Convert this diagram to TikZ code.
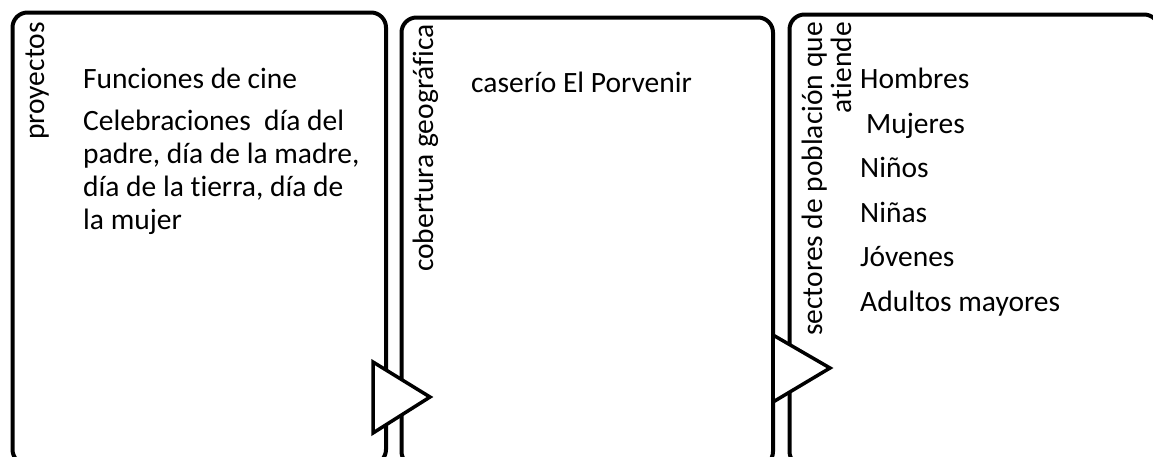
\documentclass[tikz,border=0pt]{standalone}
\usepackage{fontspec}
\setmainfont[Ligatures=CommonOff]{Carlito}
\usetikzlibrary{positioning}

\begin{document}
\begin{tikzpicture}[x=1pt, y=-1pt,
    box/.style={draw, line width=4pt, rounded corners=15pt, anchor=north west, inner sep=0pt},
    tri/.style={draw, line width=3.5pt, fill=white, miter limit=10},
    vert/.style={rotate=90, anchor=base west, inner sep=0pt, font=\fontsize{29.5}{33}\selectfont},
    txt/.style={anchor=base west, inner sep=0pt, align=left, font=\fontsize{29.5}{33}\selectfont}]
    \useasboundingbox (0,0) rectangle (1153,456);
    \clip (0,0) rectangle (1153,456);

    % the three boxes
    \node[box, minimum width=373.5pt, minimum height=452pt] (proy) at (10.5,10.5) {};
    \node[box, minimum width=371.5pt, minimum height=449pt] (cob)  at (399.5,15.5) {};
    \node[box, minimum width=369.5pt, minimum height=452pt] (sect) at (787.5,12.5) {};

    % arrow heads between the boxes
    \draw[tri] (373,362) -- (373,433) -- (430,397) -- cycle;
    \draw[tri] (773,335) -- (773,402) -- (830,368) -- cycle;

    % titles
    \node[vert] (proyT) at (44,140) {proyectos};
    \node[vert] (cobT)  at (433,272) {cobertura geográfica};
    \node[vert, anchor=base east] (sectT1) at (822,22) {sectores de población que};
    \node[vert, anchor=base east] (sectT2) at (851,22) {atiende};

    % contents (base = last line)
    \node[txt] (fun) at (83,88) {Funciones de cine};
    \node[txt] (cel) at (83,229) {Celebraciones~ día del\\padre, día de la madre,\\día de la tierra, día de\\la mujer};
    \node[txt] (cas) at (471,92) {caserío El Porvenir};
    \node[txt] (pob) at (860,311) {Hombres\\[11.5pt]\hspace{6pt}Mujeres\\[11.5pt]Niños\\[11.5pt]Niñas\\[11.5pt]Jóvenes\\[11.5pt]Adultos mayores};
\end{tikzpicture}
\end{document}
